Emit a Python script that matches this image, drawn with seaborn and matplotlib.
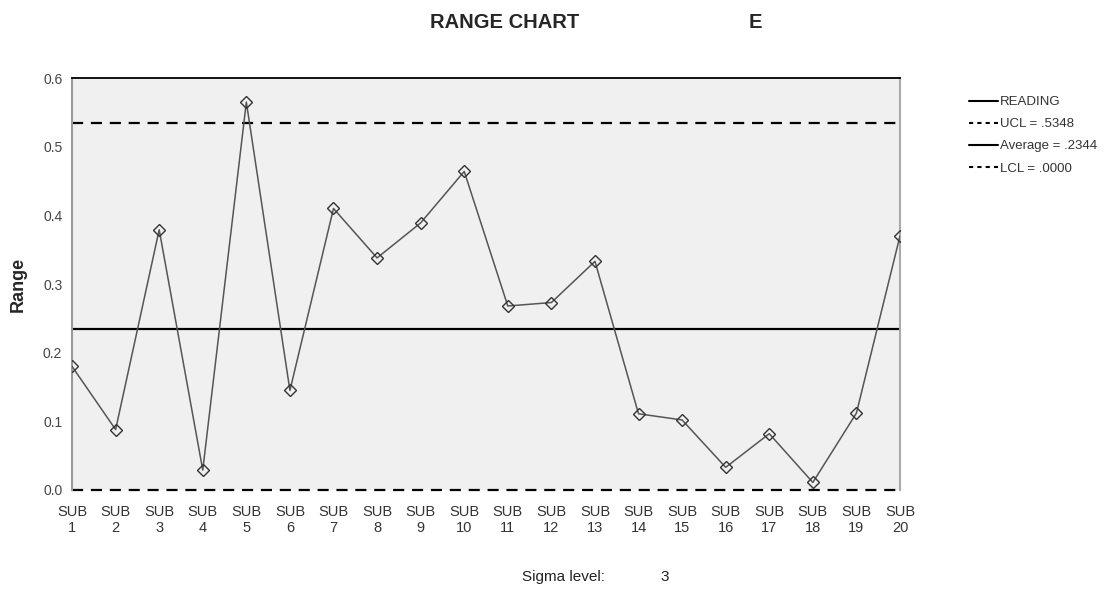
import matplotlib
matplotlib.use("Agg")
import matplotlib.pyplot as plt
from matplotlib.lines import Line2D
import pandas as pd
import seaborn as sns

# range values per subgroup
subgroups = [f"SUB\n{i}" for i in range(1, 21)]
ranges = [0.180, 0.088, 0.379, 0.029, 0.565, 0.145, 0.410, 0.338, 0.389, 0.464,
          0.268, 0.273, 0.333, 0.111, 0.102, 0.033, 0.082, 0.011, 0.112, 0.370]
ucl = 0.5348
average = 0.2344
lcl = 0.0
y_ticks = [0.0, 0.1, 0.2, 0.3, 0.4, 0.5, 0.6]

sns.set_theme(style="white")
plt.rcParams["font.family"] = ["Liberation Sans", "DejaVu Sans"]

df = pd.DataFrame({"pos": range(len(ranges)), "range": ranges})

fig = plt.figure(figsize=(11.1, 5.92), dpi=100)
ax = fig.add_axes([0.0649, 0.1723, 0.7459, 0.6959])
ax.set_facecolor("#f0f0f0")

ax.axhline(ucl, color="black", lw=1.6, ls=(0, (5, 3.5)), zorder=2)
ax.axhline(average, color="black", lw=1.6, zorder=2)
ax.axhline(lcl, color="black", lw=1.6, ls=(0, (5, 3.5)), zorder=2, clip_on=False)

sns.lineplot(data=df, x="pos", y="range", ax=ax, color="#555555", lw=1.1,
             marker="D", markersize=6.5, markerfacecolor="none",
             markeredgecolor="#333333", markeredgewidth=1.0, zorder=3)

ax.set_xlim(0, len(ranges) - 1)
ax.set_ylim(0, 0.6)
ax.set_xticks(df["pos"])
ax.set_xticklabels(subgroups, fontsize=10.5, color="#333333", linespacing=1.15)
ax.set_yticks(y_ticks)
ax.set_yticklabels([f"{v:.1f}" for v in y_ticks], fontsize=10, color="#444444")
ax.tick_params(axis="x", direction="out", length=9, width=1.3, color="black", pad=2)
ax.tick_params(axis="y", direction="out", length=6, width=1.3, color="black", pad=1)
ax.set_xlabel("")
ax.set_ylabel("Range", fontsize=13, fontweight="bold", labelpad=12)

ax.spines["top"].set_color("black")
ax.spines["top"].set_linewidth(1.3)
ax.spines["left"].set_color("#999999")
ax.spines["left"].set_linewidth(1.5)
ax.spines["right"].set_color("#aaaaaa")
ax.spines["right"].set_linewidth(1.5)
ax.spines["bottom"].set_visible(False)

fig.text(0.4545, 0.962, "RANGE CHART", fontsize=14.5, fontweight="bold",
         ha="center", va="center")
fig.text(0.6806, 0.962, "E", fontsize=14.5, fontweight="bold",
         ha="center", va="center")
fig.text(0.508, 0.025, "Sigma level:", fontsize=11, color="#222222",
         ha="center", va="center")
fig.text(0.599, 0.025, "3", fontsize=11, color="#222222",
         ha="center", va="center")

handles = [
    Line2D([], [], color="black", lw=1.5),
    Line2D([], [], color="black", lw=1.5, ls=(0, (2, 2))),
    Line2D([], [], color="black", lw=1.5),
    Line2D([], [], color="black", lw=1.5, ls=(0, (2, 2))),
]
labels = ["READING", "UCL = .5348", "Average = .2344", "LCL = .0000"]
fig.legend(handles, labels, loc="upper left", bbox_to_anchor=(0.862, 0.858),
           frameon=False, fontsize=9.5, handlelength=2.2, handletextpad=0.2,
           labelspacing=0.75, labelcolor="#333333")

fig.savefig("out.png", dpi=100)
